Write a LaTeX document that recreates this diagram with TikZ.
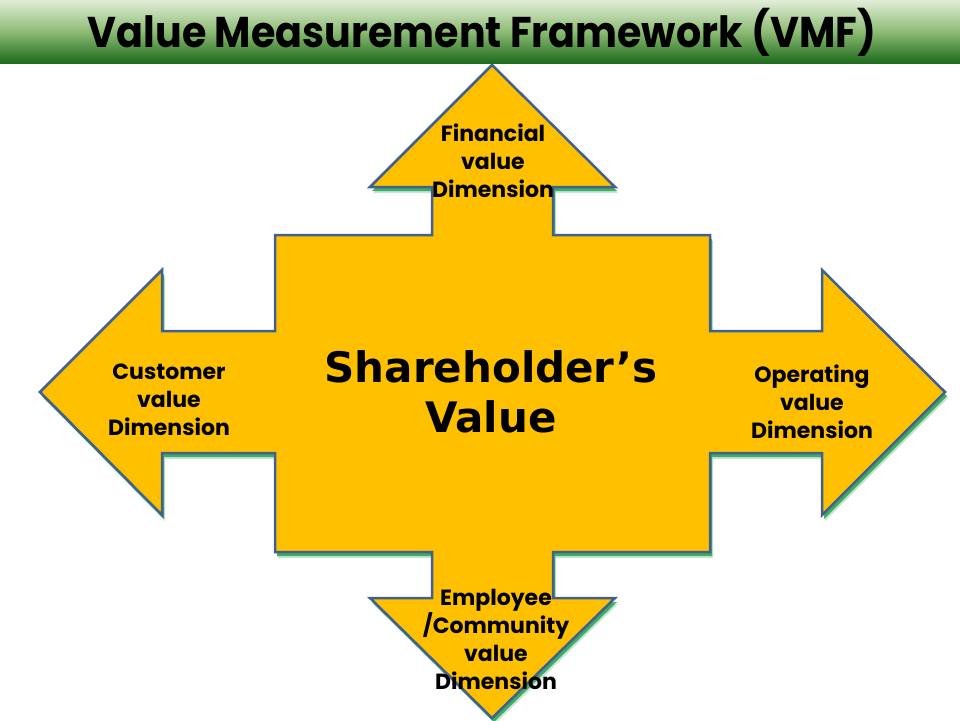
\documentclass[tikz,border=0pt]{standalone}
\usepackage{fontspec}
\setmainfont{Poppins}
\newfontfamily\verdanalike{DejaVu Sans}
\definecolor{arrowfill}{HTML}{FFC000}
\definecolor{arrowline}{HTML}{41608F}
\definecolor{glow}{HTML}{1E9E48}
\definecolor{bartop}{HTML}{E2EDD8}
\definecolor{barmid}{HTML}{8DBB74}
\definecolor{barbot}{HTML}{1D6B1B}
\tikzset{
  dimlabel/.style={font=\fontsize{22}{28}\selectfont\bfseries, align=center, text=black, inner sep=0pt},
  bigvalue/.style={font=\verdanalike\fontsize{42}{50}\selectfont\bfseries, align=center, text=black, inner sep=0pt},
  crossshape/.style={fill=arrowfill, draw=arrowline, line width=2.5pt, line join=miter},
  glowshape/.style={fill=glow},
}
\newcommand{\crosspath}{(492,65) -- (615,187) -- (553,187) -- (553,235) -- (710,235) -- (710,331) -- (822,331) -- (822,270) -- (945,392) -- (822,515) -- (822,453) -- (710,453) -- (710,552) -- (553,552) -- (553,598) -- (615,598) -- (492,718) -- (370,598) -- (432,598) -- (432,552) -- (275,552) -- (275,453) -- (162,453) -- (162,515) -- (40,392) -- (162,270) -- (162,331) -- (275,331) -- (275,235) -- (432,235) -- (432,187) -- (370,187) -- cycle}
\begin{document}
\begin{tikzpicture}[x=1pt,y=-1pt]
\useasboundingbox (0,0) rectangle (960,720);
\fill[white] (0,0) rectangle (960,720);
% title bar
\shade[top color=bartop, bottom color=barbot, middle color=barmid] (0,0) rectangle (960,63);
\node[anchor=base, inner sep=0pt] (title) at (482,47)
  {\resizebox{788pt}{\height}{\fontsize{43}{48}\selectfont\bfseries Value Measurement Framework (VMF)}};
% glow / shadow
\begin{scope}[shift={(3,6)}]
  \fill[glowshape, opacity=0.25] \crosspath;
\end{scope}
\begin{scope}[shift={(2,4)}]
  \fill[glowshape, opacity=0.8] \crosspath;
\end{scope}
% main shape
\draw[crossshape] \crosspath;
% labels
\node[bigvalue] (center) at (491,392) {Shareholder’s\\Value};
\node[dimlabel] (financial) at (493,161) {Financial\\value\\Dimension};
\node[dimlabel] (customer) at (169,400) {Customer\\value\\Dimension};
\node[dimlabel] (operating) at (812,402) {Operating\\value\\Dimension};
\node[dimlabel] (employee) at (496,639) {Employee\\/Community\\value\\Dimension};
\end{tikzpicture}
\end{document}
